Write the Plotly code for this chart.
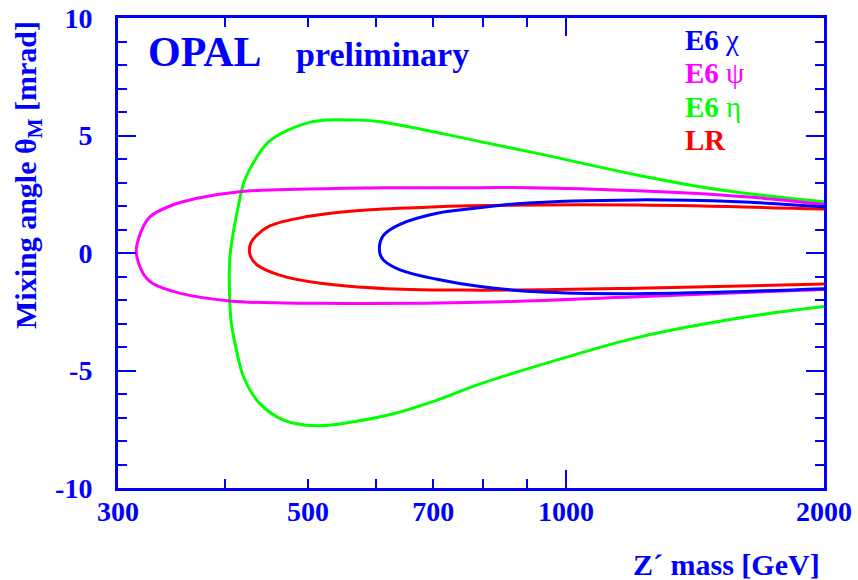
import plotly.graph_objects as go

# Z' mass [GeV] and mixing angle [mrad] along each exclusion contour,
# traced from the upper-right end, round the low-mass nose, to the lower-right end.
chi_mass = [2000, 1586, 1210, 885, 773, 707, 640, 613, 607, 605.5, 607, 613, 640, 707, 794, 925, 1210, 2000]
chi_theta = [1.97, 2.18, 2.26, 2.11, 1.88, 1.69, 1.22, 0.78, 0.48, 0.18, -0.08, -0.32, -0.72, -1.12, -1.43, -1.65, -1.73, -1.52]

psi_mass = [2000, 1735, 1517, 1210, 909, 794, 618, 498.5, 416, 371, 345, 327, 321, 317, 315,
            317, 318.5, 322, 329, 355, 405, 517, 794, 1210, 2000]
psi_theta = [2.07, 2.30, 2.47, 2.65, 2.78, 2.78, 2.78, 2.72, 2.61, 2.33, 2.0, 1.55, 1.12, 0.60, 0.08,
             -0.42, -0.62, -0.95, -1.29, -1.72, -2.04, -2.14, -2.10, -1.86, -1.55]

eta_mass = [2000, 1517, 1210, 926, 794, 607, 565, 526, 502, 473.5, 449, 433.6, 421, 414.4, 408.8, 405,
            405, 406.8, 412.4, 421, 439, 468, 512, 565, 632, 707, 794, 977, 1210, 1586, 2000]
eta_theta = [2.18, 2.68, 3.32, 4.24, 4.74, 5.59, 5.66, 5.66, 5.56, 5.23, 4.71, 3.96, 3.03, 1.97, 0.84, -0.30,
             -2.0, -2.99, -4.13, -5.33, -6.40, -7.11, -7.35, -7.18, -6.82, -6.26, -5.57, -4.55, -3.60, -2.78, -2.28]

lr_mass = [2000, 1210, 773, 676, 565, 498.5, 451, 436, 429, 427, 429, 436, 463, 517, 618, 794, 1210, 2000]
lr_theta = [1.87, 2.04, 2.01, 1.94, 1.79, 1.55, 1.15, 0.77, 0.45, 0.12, -0.20, -0.51, -0.94, -1.29, -1.52, -1.58, -1.50, -1.32]

series_names = ["E6 χ", "E6 ψ", "E6 η", "LR"]
series_colors = ["#0000FF", "#FF00FF", "#00FF00", "#FF0000"]

x_tick_vals = [300, 500, 700, 1000, 2000]
x_tick_text = ["300", "500", "700", "1000", "2000"]
x_minor_vals = [400, 600, 800, 900]
x_decade_vals = [1000]
y_tick_vals = [-10, -5, 0, 5, 10]
y_tick_text = ["-10", "-5", "0", "5", "10"]

BLUE = "#0000FF"
FONT = "Liberation Serif"

W, H = 858, 580
L, R, T, B = 118, 34, 18, 92


def px_x(p):
    return (p - L) / (W - L - R)


def px_y(p):
    return (H - B - p) / (H - T - B)


fig = go.Figure()

curves = {
    "E6 η": (eta_mass, eta_theta),
    "E6 ψ": (psi_mass, psi_theta),
    "LR": (lr_mass, lr_theta),
    "E6 χ": (chi_mass, chi_theta),
}
for name in ["E6 η", "E6 ψ", "LR", "E6 χ"]:
    xs, ys = curves[name]
    fig.add_trace(go.Scatter(
        x=xs, y=ys, mode="lines", name=name,
        line=dict(color=series_colors[series_names.index(name)], width=3,
                  shape="spline", smoothing=1.1),
        showlegend=False, hoverinfo="skip",
    ))

# invisible trace carrying the decade tick on an overlaid axis
fig.add_trace(go.Scatter(x=[1000], y=[0], xaxis="x2", mode="markers",
                         marker=dict(opacity=0), showlegend=False, hoverinfo="skip"))

axis_common = dict(
    showline=True, linecolor=BLUE, linewidth=3, mirror="ticks",
    ticks="inside", tickcolor=BLUE, tickwidth=2,
    showgrid=False, zeroline=False, automargin=False,
    tickfont=dict(family=FONT, size=28, color=BLUE, weight="bold"),
)

fig.update_layout(
    width=W, height=H,
    margin=dict(l=L, r=R, t=T, b=B),
    paper_bgcolor="white", plot_bgcolor="white",
    xaxis=dict(
        type="log", range=[2.4771, 3.30103],
        tickmode="array", tickvals=x_tick_vals, ticktext=x_tick_text, ticklen=9,
        minor=dict(tickmode="array", tickvals=x_minor_vals, ticklen=9,
                   tickcolor=BLUE, tickwidth=2, ticks="inside", showgrid=False),
        ticklabelstandoff=-4,
        **axis_common,
    ),
    xaxis2=dict(
        type="log", range=[2.4771, 3.30103], overlaying="x", side="bottom",
        tickmode="array", tickvals=x_decade_vals, ticklen=18, showticklabels=False,
        ticks="inside", tickcolor=BLUE, tickwidth=2, mirror="ticks",
        showline=False, showgrid=False, zeroline=False, automargin=False,
    ),
    yaxis=dict(
        range=[-10, 10],
        tickmode="array", tickvals=y_tick_vals, ticktext=y_tick_text, ticklen=18,
        minor=dict(dtick=1, tick0=0, ticklen=9, tickcolor=BLUE, tickwidth=2,
                   ticks="inside", showgrid=False),
        ticklabelstandoff=17,
        **axis_common,
    ),
)

annotations = [
    dict(text="<b>OPAL</b>", x=px_x(205), y=px_y(52), size=42, xanchor="center"),
    dict(text="<b>preliminary</b>", x=px_x(382), y=px_y(55), size=34, xanchor="center"),
    dict(text="<b>E6</b> χ", x=px_x(683), y=px_y(40), size=29, xanchor="left", color=series_colors[0]),
    dict(text="<b>E6</b> ψ", x=px_x(683), y=px_y(73), size=29, xanchor="left", color=series_colors[1]),
    dict(text="<b>E6</b> η", x=px_x(683), y=px_y(107), size=29, xanchor="left", color=series_colors[2]),
    dict(text="<b>LR</b>", x=px_x(683), y=px_y(140), size=29, xanchor="left", color=series_colors[3]),
    dict(text="<b>Z´ mass [GeV]</b>", x=px_x(822), y=px_y(564), size=30, xanchor="right"),
]
for a in annotations:
    fig.add_annotation(
        text=a["text"], x=a["x"], y=a["y"], xref="paper", yref="paper",
        xanchor=a["xanchor"], yanchor="middle", showarrow=False,
        font=dict(family=FONT, size=a["size"], color=a.get("color", BLUE)),
    )

fig.add_annotation(
    text="<b>Mixing angle θ<sub>M</sub> [mrad]</b>",
    x=px_x(28), y=px_y(175), xref="paper", yref="paper",
    xanchor="center", yanchor="middle", textangle=-90, showarrow=False,
    font=dict(family=FONT, size=30, color=BLUE),
)

fig.write_html("out.html")
